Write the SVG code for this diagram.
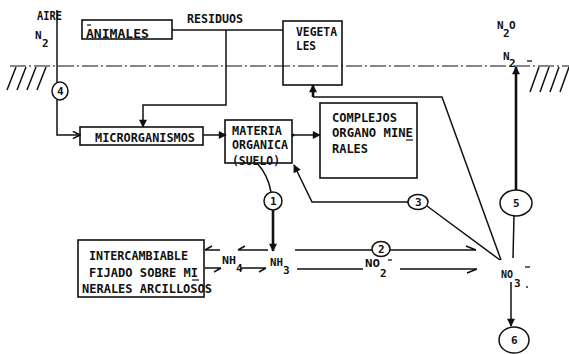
<svg xmlns="http://www.w3.org/2000/svg" width="569" height="354" viewBox="0 0 569 354">
<style>
  text { font-family: "DejaVu Sans Mono", "Liberation Mono", monospace; font-weight: bold; font-size: 12.5px; fill: #111; }
  .sm { font-size: 11px; }
  .box { fill: none; stroke: #111; stroke-width: 1.6; }
  .ln { fill: none; stroke: #111; stroke-width: 1.5; }
  .thick { fill: none; stroke: #111; stroke-width: 2.6; }
  .circ { fill: #fff; stroke: #111; stroke-width: 1.5; }
  .ground { fill: none; stroke: #111; stroke-width: 1.2; stroke-dasharray: 16 3 2 3; }
</style>
<defs>
  <marker id="fill" viewBox="0 0 10 10" refX="9" refY="5" markerWidth="9" markerHeight="8" orient="auto" markerUnits="userSpaceOnUse">
    <path d="M0,0 L10,5 L0,10 z" fill="#111"/>
  </marker>
  <marker id="open" viewBox="0 0 10 10" refX="9" refY="5" markerWidth="9" markerHeight="9" orient="auto" markerUnits="userSpaceOnUse">
    <path d="M1,1 L9,5 L1,9" fill="none" stroke="#111" stroke-width="1.8"/>
  </marker>
</defs>

<!-- ground -->
<g id="ground">
  <line class="ground" x1="10" y1="66" x2="569" y2="66"/>
  <path class="ln" d="M7,90 L16,67 M17,90 L26,67 M27,90 L36,67 M37,90 L46,67"/>
  <path class="ln" d="M530,92 L539,67 M540,92 L549,67 M550,92 L559,67 M560,92 L569,67"/>
</g>

<!-- labels -->
<g id="aire">
  <text x="37" y="20" textLength="25" lengthAdjust="spacingAndGlyphs">AIRE</text>
  <text x="35" y="39" class="sm">N</text><text x="42" y="47" class="sm">2</text>
</g>
<g id="residuos"><text x="187" y="23" textLength="56" lengthAdjust="spacingAndGlyphs">RESIDUOS</text></g>
<g id="n2o">
  <text x="497" y="29" class="sm">N</text><text x="503" y="37" class="sm">2</text><text x="509" y="29" class="sm">O</text>
</g>
<g id="n2ground">
  <text x="503" y="60" class="sm">N</text><text x="509" y="67" class="sm">2</text>
  <line x1="527" y1="61" x2="532" y2="61" stroke="#111" stroke-width="1.3"/>
</g>

<!-- nodes -->
<g id="animales">
  <rect class="box" x="82" y="20" width="90" height="19"/>
  <line x1="87" y1="25" x2="91" y2="25" stroke="#111" stroke-width="1.2"/>
  <text x="86" y="38" textLength="63" lengthAdjust="spacingAndGlyphs">ANIMALES</text>
</g>
<g id="vegetales">
  <rect class="box" x="283" y="21" width="59" height="64"/>
  <text x="296" y="36" textLength="41" lengthAdjust="spacingAndGlyphs">VEGETA</text>
  <text x="296" y="50" textLength="20" lengthAdjust="spacingAndGlyphs">LES</text>
</g>
<g id="microrganismos">
  <rect class="box" x="80" y="127" width="123" height="18"/>
  <text x="95" y="142" textLength="100" lengthAdjust="spacingAndGlyphs">MICRORGANISMOS</text>
</g>
<g id="materia">
  <rect class="box" x="225" y="120" width="67" height="43"/>
  <text x="232" y="135" textLength="50" lengthAdjust="spacingAndGlyphs">MATERIA</text>
  <text x="232" y="149" textLength="56" lengthAdjust="spacingAndGlyphs">ORGANICA</text>
  <text x="232" y="165" textLength="48" lengthAdjust="spacingAndGlyphs">(SUELO)</text>
</g>
<g id="complejos">
  <rect class="box" x="320" y="103" width="97" height="75"/>
  <text x="332" y="122" textLength="65" lengthAdjust="spacingAndGlyphs">COMPLEJOS</text>
  <text x="332" y="137" textLength="81" lengthAdjust="spacingAndGlyphs">ORGANO MINE</text>
  <line x1="406" y1="140" x2="413" y2="140" stroke="#111" stroke-width="1.2"/>
  <text x="332" y="153" textLength="36" lengthAdjust="spacingAndGlyphs">RALES</text>
</g>
<g id="intercambiable">
  <rect class="box" x="78" y="240" width="126" height="57"/>
  <text x="89" y="260" textLength="99" lengthAdjust="spacingAndGlyphs">INTERCAMBIABLE</text>
  <text x="89" y="277" textLength="109" lengthAdjust="spacingAndGlyphs">FIJADO SOBRE MI</text>
  <line x1="192" y1="280" x2="199" y2="280" stroke="#111" stroke-width="1.2"/>
  <text x="82" y="293" textLength="130" lengthAdjust="spacingAndGlyphs">NERALES ARCILLOSOS</text>
</g>
<g id="nh4">
  <text x="222" y="264" class="sm" textLength="14" lengthAdjust="spacingAndGlyphs">NH</text><text x="236" y="272" class="sm">4</text>
</g>
<g id="nh3">
  <text x="270" y="266" class="sm" textLength="13" lengthAdjust="spacingAndGlyphs">NH</text><text x="283" y="274" class="sm">3</text>
</g>
<g id="no2">
  <text x="365" y="267" class="sm" textLength="15" lengthAdjust="spacingAndGlyphs">NO</text><text x="380" y="277" class="sm">2</text>
  <line x1="388" y1="260" x2="392" y2="260" stroke="#111" stroke-width="1.3"/>
</g>
<g id="no3">
  <text x="501" y="278" class="sm" textLength="12" lengthAdjust="spacingAndGlyphs">NO</text><text x="514" y="287" class="sm">3</text>
  <line x1="525" y1="267" x2="530" y2="267" stroke="#111" stroke-width="1.3"/>
  <circle cx="527" cy="287" r="0.9" fill="#111"/>
</g>

<!-- connectors -->
<g id="connectors">
  <path class="ln" d="M172,30 H283"/>
  <path class="ln" d="M226,30 V105 H143 V127" marker-end="url(#fill)"/>
  <path class="ln" d="M57,10 V82"/>
  <path class="ln" d="M57,100 V135 H80" marker-end="url(#open)"/>
  <path class="ln" d="M203,135 H226" marker-end="url(#fill)"/>
  <circle cx="293" cy="135" r="1.6" fill="#111"/>
  <path class="ln" d="M292,135 H320" marker-end="url(#fill)"/>
  <path class="ln" d="M257,163 Q268,175 271,192"/>
  <path class="thick" d="M273,210 V251" marker-end="url(#fill)"/>
  <path class="ln" d="M268,250 H238 M238,250 L245,246"/>
  <path class="ln" d="M241,268 H266 M266,268 L259,272"/>
  <path class="ln" d="M220,250 H205 M205,250 L212,246"/>
  <path class="ln" d="M205,268 H221 M221,268 L214,272"/>
  <path class="ln" d="M295,250 H372 M390,250 H476 M476,250 L466,246"/>
  <path class="ln" d="M297,269 H363 M400,269 H477 M477,269 L467,273"/>
  <path class="ln" d="M313,97 H442 L501,260"/>
  <path class="thick" d="M313,97 V85" marker-end="url(#fill)"/>
  <path class="ln" d="M427,206 L500,260"/>
  <path class="ln" d="M408,202 H312 L294,165" marker-end="url(#fill)"/>
  <path class="thick" d="M516,190 V67" marker-end="url(#fill)"/>
  <path class="ln" d="M514,216 L513,258"/>
  <path class="ln" d="M511,282 V326" marker-end="url(#fill)"/>
</g>

<!-- process circles -->
<g id="c4"><ellipse class="circ" cx="60" cy="91" rx="8" ry="9"/><text x="57" y="95" class="sm">4</text></g>
<g id="c1"><circle class="circ" cx="273" cy="201" r="9"/><text x="270" y="205" class="sm">1</text></g>
<g id="c2"><ellipse class="circ" cx="381" cy="249" rx="9" ry="7.5"/><text x="378" y="253" class="sm">2</text></g>
<g id="c3"><ellipse class="circ" cx="418" cy="202" rx="10" ry="7.5"/><text x="415" y="206" class="sm">3</text></g>
<g id="c5"><ellipse class="circ" cx="516" cy="203" rx="16" ry="13"/><text x="513" y="207" class="sm">5</text></g>
<g id="c6"><ellipse class="circ" cx="514" cy="340" rx="15" ry="13"/><text x="511" y="344" class="sm">6</text></g>
</svg>
